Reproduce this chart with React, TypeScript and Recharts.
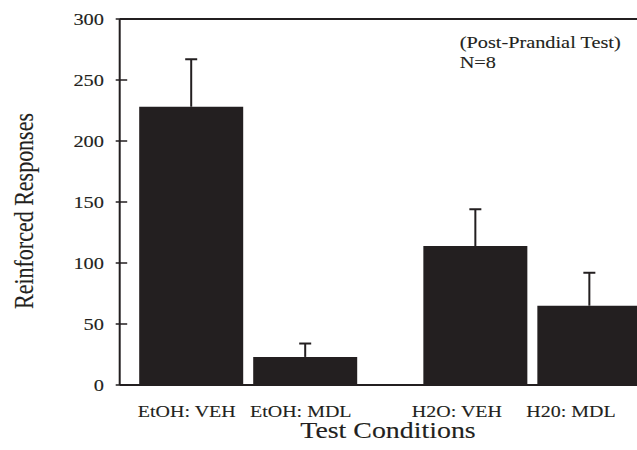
import { BarChart, Bar, XAxis, YAxis, ReferenceLine } from 'recharts';

const groups = ['EtOH', 'H2O'];
const tickLabels = [['EtOH: VEH', 'EtOH: MDL'], ['H2O: VEH', 'H20: MDL']];
const vehMeans = [228, 114];
const vehSem = [39, 30];
const mdlMeans = [23, 65];
const mdlSem = [11, 27];
const yTicks = [0, 50, 100, 150, 200, 250, 300];

const INK = '#231f20';
const FONT = '"Liberation Serif", "Times New Roman", serif';

const data = groups.map((g, i) => ({
  group: g,
  veh: vehMeans[i],
  vehErr: vehSem[i],
  mdl: mdlMeans[i],
  mdlErr: mdlSem[i],
}));

const textProps = { fontFamily: FONT, fill: INK, stroke: INK, strokeWidth: 0.12 };

// upward-only error bar: stacked on the mean, drawn as a "T"
const ErrShape = ({ x, y, width, height }: any) => {
  const cx = x + width / 2;
  return (
    <g>
      <line x1={cx} x2={cx} y1={y + height} y2={y} stroke={INK} strokeWidth={2} />
      <line x1={cx - 6} x2={cx + 6} y1={y} y2={y} stroke={INK} strokeWidth={2} />
    </g>
  );
};

// y ticks cross the axis line, labels are a bit wider than plain Times
const YTick = ({ x, y, payload }: any) => (
  <g>
    <line x1={x} x2={x + 11.5} y1={y} y2={y} stroke={INK} strokeWidth={1.5} />
    <text transform={`translate(${x - 11.7},${y + 6}) scale(1.2,1)`} textAnchor="end" fontSize={17} {...textProps}>
      {payload.value}
    </text>
  </g>
);

// one tick per group, but two labels (one under each bar)
const XTick = ({ x, y, payload }: any) => {
  const gi = groups.indexOf(payload.value);
  const labels = tickLabels[gi] || [];
  const nudge = gi === 0 ? -4.5 : -18.5;
  return (
    <g>
      {labels.map((l, k) => (
        <text
          key={l}
          transform={`translate(${x + nudge + (k ? 57 : -57)},${y + 23.7}) scale(1.13,1)`}
          textAnchor="middle"
          fontSize={17.7}
          {...textProps}
        >
          {l}
        </text>
      ))}
    </g>
  );
};

export default function App() {
  return (
    <div style={{ position: 'absolute', left: 0, top: 0, width: 637, height: 450, overflow: 'hidden', background: '#fff' }}>
      <BarChart
        width={700}
        height={450}
        data={data}
        margin={{ top: 19, right: 0, bottom: 0, left: 0 }}
        barSize={104}
        barGap={10}
      >
        <ReferenceLine y={300} stroke={INK} strokeWidth={2} />
        <XAxis
          dataKey="group"
          height={65}
          padding={{ left: -13.5, right: 25.5 }}
          axisLine={{ stroke: INK, strokeWidth: 2 }}
          tickLine={false}
          tickSize={8}
          tickMargin={0}
          interval={0}
          tick={<XTick />}
        />
        <YAxis
          width={119.7}
          domain={[0, 300]}
          ticks={yTicks}
          interval={0}
          allowDataOverflow
          axisLine={{ stroke: INK, strokeWidth: 2 }}
          tickLine={false}
          tickSize={4}
          tickMargin={0}
          tick={<YTick />}
        />
        <Bar dataKey="veh" stackId="veh" fill={INK} isAnimationActive={false} />
        <Bar dataKey="vehErr" stackId="veh" shape={<ErrShape />} isAnimationActive={false} />
        <Bar dataKey="mdl" stackId="mdl" fill={INK} isAnimationActive={false} />
        <Bar dataKey="mdlErr" stackId="mdl" shape={<ErrShape />} isAnimationActive={false} />

        <text transform="translate(32.5,211) scale(1.2,1) rotate(-90)" textAnchor="middle" fontSize={22} {...textProps}>
          Reinforced Responses
        </text>
        <text transform="translate(388,438.3) scale(1.24,1)" textAnchor="middle" fontSize={22.5} {...textProps}>
          Test Conditions
        </text>
        <text transform="translate(459.7,47.5) scale(1.16,1)" fontSize={17.5} {...textProps}>
          (Post-Prandial Test)
        </text>
        <text transform="translate(459.7,68) scale(1.16,1)" fontSize={17.5} {...textProps}>
          N=8
        </text>
      </BarChart>
    </div>
  );
}
